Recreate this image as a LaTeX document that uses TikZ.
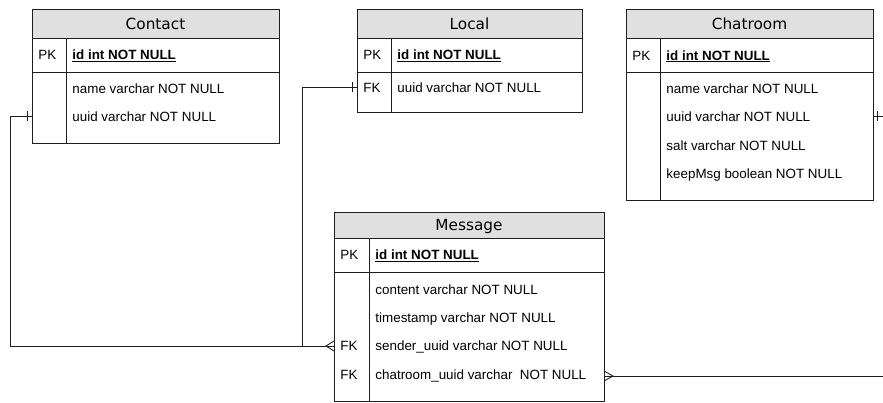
\documentclass[tikz,border=0pt]{standalone}
\usepackage{fontspec}
\setmainfont{Liberation Sans}
\newfontfamily\ttlfont{DejaVu Sans}
\definecolor{hdrgray}{RGB}{224,224,224}
\definecolor{linecol}{RGB}{30,30,30}
\begin{document}
\begin{tikzpicture}[x=1bp,y=-1bp,line width=0.9bp,
  tbl/.style={draw=linecol,inner sep=0pt,outer sep=0pt,anchor=north west},
  hdr/.style={tbl,fill=hdrgray,font=\ttlfont\fontsize{15.3bp}{18bp}\selectfont,text height=11bp,text depth=0pt},
  fld/.style={anchor=base west,inner sep=0pt,font=\fontsize{13.4bp}{16bp}\selectfont},
  pkf/.style={fld,font=\bfseries\fontsize{13.4bp}{16bp}\selectfont},
  sep/.style={draw=linecol},
  conn/.style={draw=linecol,line width=0.9bp}
]
\useasboundingbox (0,0) rectangle (883,402);

% ---------- Contact ----------
\node[tbl,minimum width=247bp,minimum height=134bp] (contact) at (32,9) {};
\node[hdr,minimum width=247bp,minimum height=29bp] (contactH) at (32,9) {Contact};
\draw[sep] (32,72) -- (279,72);
\draw[sep] (66,38) -- (66,143);
\node[fld] (contactPK) at (38,59.5) {PK};
\node[pkf] (contactId) at (72,59.5) {\underline{id int NOT NULL}};
\node[fld] (contactName) at (72,93) {name varchar NOT NULL};
\node[fld] (contactUuid) at (72,121.4) {uuid varchar NOT NULL};

% ---------- Local ----------
\node[tbl,minimum width=225bp,minimum height=103bp] (local) at (357,9) {};
\node[hdr,minimum width=225bp,minimum height=29bp] (localH) at (357,9) {Local};
\draw[sep] (357,72) -- (582,72);
\draw[sep] (391,38) -- (391,112);
\node[fld] (localPK) at (363,59.5) {PK};
\node[pkf] (localId) at (397,59.5) {\underline{id int NOT NULL}};
\node[fld] (localFK) at (363,92) {FK};
\node[fld] (localUuid) at (397,92) {uuid varchar NOT NULL};

% ---------- Chatroom ----------
\node[tbl,minimum width=247bp,minimum height=191bp] (chat) at (626,9) {};
\node[hdr,minimum width=247bp,minimum height=29bp] (chatH) at (626,9) {Chatroom};
\draw[sep] (626,72) -- (873,72);
\draw[sep] (660,38) -- (660,200);
\node[fld] (chatPK) at (632,60) {PK};
\node[pkf] (chatId) at (666,60) {\underline{id int NOT NULL}};
\node[fld] (chatName) at (666,93.5) {name varchar NOT NULL};
\node[fld] (chatUuid) at (666,121.9) {uuid varchar NOT NULL};
\node[fld] (chatSalt) at (666,150.3) {salt varchar NOT NULL};
\node[fld] (chatKeep) at (666,178.7) {keepMsg boolean NOT NULL};

% ---------- Message ----------
\node[tbl,minimum width=270bp,minimum height=189bp] (msg) at (334,212) {};
\node[hdr,minimum width=270bp,minimum height=26bp] (msgH) at (334,212) {Message};
\draw[sep] (334,272) -- (604,272);
\draw[sep] (369,238) -- (369,401);
\node[fld] (msgPK) at (340,259.5) {PK};
\node[pkf] (msgId) at (375,259.5) {\underline{id int NOT NULL}};
\node[fld] (msgContent) at (375,294) {content varchar NOT NULL};
\node[fld] (msgTime) at (375,322.4) {timestamp varchar NOT NULL};
\node[fld] (msgFK1) at (340,350.8) {FK};
\node[fld] (msgSender) at (375,350.8) {sender\_uuid varchar NOT NULL};
\node[fld] (msgFK2) at (340,379.2) {FK};
\node[fld] (msgChat) at (375,379.2) {chatroom\_uuid varchar\ \ NOT NULL};

% ---------- connector anchors ----------
\coordinate (cA) at (contact.west |- 0,116);
\coordinate (lA) at (local.west |- 0,87);
\coordinate (mS) at (msg.west |- 0,346);
\coordinate (mC) at (msg.east |- 0,376);
\coordinate (chA) at (chat.east |- 0,116);
\coordinate (rEdge) at (883,376);
\coordinate (rEdge2) at (883,116);

% Contact -> Message.sender
\draw[conn] (cA) -- (10,116) -- (10,346) -- (mS);
\draw[conn] ([xshift=-5bp]cA) ++(0,-5) -- ++(0,10);
% Local -> Message.sender
\draw[conn] (lA) -- (302,87) -- (302,346);
\draw[conn] ([xshift=-5bp]lA) ++(0,-5) -- ++(0,10);
% crow's foot at Message sender
\draw[conn] ([yshift=-5bp]mS) -- ([xshift=-8bp]mS) -- ([yshift=5bp]mS);
% Message.chatroom -> right edge
\draw[conn] (mC) -- (rEdge);
\draw[conn] ([yshift=-5bp]mC) -- ([xshift=9bp]mC) -- ([yshift=5bp]mC);
% Chatroom stub
\draw[conn] (chA) -- (rEdge2);
\draw[conn] ([xshift=4bp]chA) ++(0,-5) -- ++(0,10);
\end{tikzpicture}
\end{document}
